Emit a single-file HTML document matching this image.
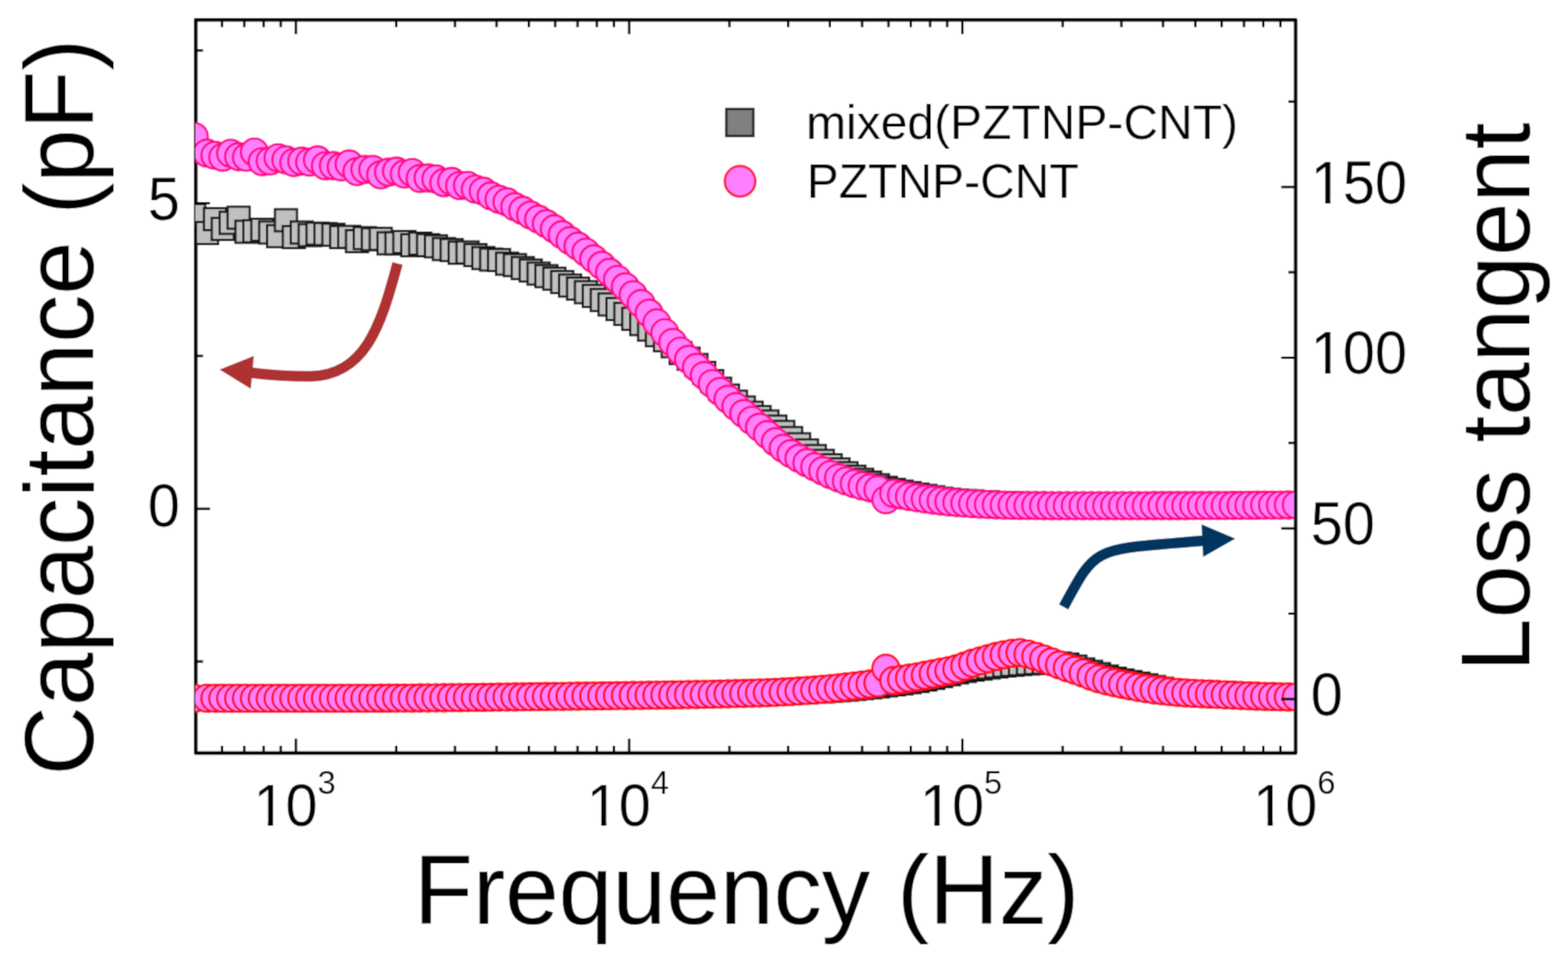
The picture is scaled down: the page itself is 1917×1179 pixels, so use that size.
<!DOCTYPE html>
<html><head><meta charset="utf-8"><title>Capacitance and loss tangent vs frequency</title>
<style>html,body{margin:0;padding:0;background:#fff;}svg{display:block;}</style></head>
<body><svg width="1917" height="1179" viewBox="0 0 1917 1179">
<defs><clipPath id="pc"><rect x="238.7" y="24.3" width="1343.3" height="896.8"/></clipPath>
<filter id="soft" x="0" y="0" width="1917" height="1179" filterUnits="userSpaceOnUse"><feConvolveMatrix order="3" kernelMatrix="0.04387 0.12171 0.04387 0.12171 0.33767 0.12171 0.04387 0.12171 0.04387" edgeMode="duplicate"/></filter></defs>
<g filter="url(#soft)">
<rect width="1917" height="1179" fill="#fff"/>
<rect x="239.3" y="24.3" width="1344.7" height="896.8" fill="none" stroke="#000" stroke-width="4.5" stroke-linejoin="round"/>
<g clip-path="url(#pc)"><g fill="#C0C0C0" stroke="#1A1A1A" stroke-width="2.8"><rect x="224.0" y="249.5" width="27" height="27"/><rect x="239.7" y="271.5" width="27" height="27"/><rect x="249.3" y="254.5" width="27" height="27"/><rect x="258.9" y="266.5" width="27" height="27"/><rect x="268.6" y="259.0" width="27" height="27"/><rect x="278.2" y="252.8" width="27" height="27"/><rect x="287.9" y="270.0" width="27" height="27"/><rect x="297.6" y="269.3" width="27" height="27"/><rect x="307.2" y="267.5" width="27" height="27"/><rect x="316.9" y="270.9" width="27" height="27"/><rect x="326.5" y="275.3" width="27" height="27"/><rect x="336.1" y="255.9" width="27" height="27"/><rect x="345.8" y="276.5" width="27" height="27"/><rect x="355.4" y="270.9" width="27" height="27"/><rect x="365.1" y="274.1" width="27" height="27"/><rect x="374.8" y="272.2" width="27" height="27"/><rect x="384.4" y="272.8" width="27" height="27"/><rect x="394.1" y="273.7" width="27" height="27"/><rect x="403.7" y="276.5" width="27" height="27"/><rect x="413.4" y="276.2" width="27" height="27"/><rect x="423.0" y="281.5" width="27" height="27"/><rect x="432.6" y="277.8" width="27" height="27"/><rect x="442.3" y="279.1" width="27" height="27"/><rect x="452.0" y="278.7" width="27" height="27"/><rect x="461.6" y="284.1" width="27" height="27"/><rect x="471.2" y="284.1" width="27" height="27"/><rect x="480.9" y="282.5" width="27" height="27"/><rect x="490.6" y="286.4" width="27" height="27"/><rect x="500.2" y="284.4" width="27" height="27"/><rect x="509.9" y="286.3" width="27" height="27"/><rect x="519.5" y="287.8" width="27" height="27"/><rect x="529.2" y="291.1" width="27" height="27"/><rect x="538.8" y="292.3" width="27" height="27"/><rect x="548.5" y="295.7" width="27" height="27"/><rect x="558.1" y="295.2" width="27" height="27"/><rect x="567.8" y="298.5" width="27" height="27"/><rect x="577.4" y="302.1" width="27" height="27"/><rect x="587.0" y="304.0" width="27" height="27"/><rect x="596.7" y="304.6" width="27" height="27"/><rect x="606.4" y="309.0" width="27" height="27"/><rect x="616.0" y="310.8" width="27" height="27"/><rect x="625.7" y="314.3" width="27" height="27"/><rect x="635.3" y="317.3" width="27" height="27"/><rect x="645.0" y="321.1" width="27" height="27"/><rect x="654.6" y="324.2" width="27" height="27"/><rect x="664.2" y="327.3" width="27" height="27"/><rect x="673.9" y="331.4" width="27" height="27"/><rect x="683.5" y="335.8" width="27" height="27"/><rect x="693.2" y="339.5" width="27" height="27"/><rect x="702.9" y="343.9" width="27" height="27"/><rect x="712.5" y="348.4" width="27" height="27"/><rect x="722.2" y="353.4" width="27" height="27"/><rect x="731.8" y="358.9" width="27" height="27"/><rect x="741.5" y="364.5" width="27" height="27"/><rect x="751.1" y="370.4" width="27" height="27"/><rect x="760.8" y="376.5" width="27" height="27"/><rect x="770.4" y="382.9" width="27" height="27"/><rect x="780.1" y="389.7" width="27" height="27"/><rect x="789.7" y="396.5" width="27" height="27"/><rect x="799.4" y="402.7" width="27" height="27"/><rect x="809.0" y="410.0" width="27" height="27"/><rect x="818.6" y="418.3" width="27" height="27"/><rect x="828.3" y="425.1" width="27" height="27"/><rect x="838.0" y="432.9" width="27" height="27"/><rect x="847.6" y="442.6" width="27" height="27"/><rect x="857.2" y="452.6" width="27" height="27"/><rect x="866.9" y="461.9" width="27" height="27"/><rect x="876.6" y="470.2" width="27" height="27"/><rect x="886.2" y="477.8" width="27" height="27"/><rect x="895.9" y="484.9" width="27" height="27"/><rect x="905.5" y="491.2" width="27" height="27"/><rect x="915.1" y="496.6" width="27" height="27"/><rect x="924.8" y="502.0" width="27" height="27"/><rect x="934.5" y="508.2" width="27" height="27"/><rect x="944.1" y="514.8" width="27" height="27"/><rect x="953.8" y="522.2" width="27" height="27"/><rect x="963.4" y="529.9" width="27" height="27"/><rect x="973.1" y="537.3" width="27" height="27"/><rect x="982.7" y="544.2" width="27" height="27"/><rect x="992.4" y="550.1" width="27" height="27"/><rect x="1002.0" y="555.5" width="27" height="27"/><rect x="1011.7" y="560.6" width="27" height="27"/><rect x="1021.3" y="565.2" width="27" height="27"/><rect x="1031.0" y="569.4" width="27" height="27"/><rect x="1040.6" y="573.2" width="27" height="27"/><rect x="1050.2" y="576.7" width="27" height="27"/><rect x="1059.9" y="580.0" width="27" height="27"/><rect x="1069.6" y="583.1" width="27" height="27"/><rect x="1079.2" y="585.6" width="27" height="27"/><rect x="1088.8" y="587.8" width="27" height="27"/><rect x="1098.5" y="589.6" width="27" height="27"/><rect x="1108.2" y="591.3" width="27" height="27"/><rect x="1117.8" y="593.0" width="27" height="27"/><rect x="1127.5" y="594.7" width="27" height="27"/><rect x="1137.1" y="596.3" width="27" height="27"/><rect x="1146.8" y="597.5" width="27" height="27"/><rect x="1156.4" y="598.4" width="27" height="27"/><rect x="1166.1" y="599.1" width="27" height="27"/><rect x="1175.7" y="599.8" width="27" height="27"/><rect x="1185.3" y="600.4" width="27" height="27"/><rect x="1195.0" y="600.9" width="27" height="27"/><rect x="1204.7" y="601.4" width="27" height="27"/><rect x="1214.3" y="601.8" width="27" height="27"/><rect x="1224.0" y="602.2" width="27" height="27"/><rect x="1233.6" y="602.4" width="27" height="27"/><rect x="1243.2" y="602.7" width="27" height="27"/><rect x="1252.9" y="602.9" width="27" height="27"/><rect x="1262.5" y="603.1" width="27" height="27"/><rect x="1272.2" y="603.3" width="27" height="27"/><rect x="1281.9" y="603.4" width="27" height="27"/><rect x="1291.5" y="603.6" width="27" height="27"/><rect x="1301.2" y="603.7" width="27" height="27"/><rect x="1310.8" y="603.8" width="27" height="27"/><rect x="1320.5" y="603.9" width="27" height="27"/><rect x="1330.1" y="604.0" width="27" height="27"/><rect x="1339.8" y="604.0" width="27" height="27"/><rect x="1349.4" y="604.1" width="27" height="27"/><rect x="1359.0" y="604.1" width="27" height="27"/><rect x="1368.7" y="604.1" width="27" height="27"/><rect x="1378.4" y="604.2" width="27" height="27"/><rect x="1388.0" y="604.2" width="27" height="27"/><rect x="1397.7" y="604.2" width="27" height="27"/><rect x="1407.3" y="604.3" width="27" height="27"/><rect x="1417.0" y="604.3" width="27" height="27"/><rect x="1426.6" y="604.3" width="27" height="27"/><rect x="1436.2" y="604.3" width="27" height="27"/><rect x="1445.9" y="604.4" width="27" height="27"/><rect x="1455.5" y="604.4" width="27" height="27"/><rect x="1465.2" y="604.4" width="27" height="27"/><rect x="1474.9" y="604.4" width="27" height="27"/><rect x="1484.5" y="604.4" width="27" height="27"/><rect x="1494.2" y="604.4" width="27" height="27"/><rect x="1503.8" y="604.5" width="27" height="27"/><rect x="1513.5" y="604.5" width="27" height="27"/><rect x="1523.1" y="604.5" width="27" height="27"/><rect x="1532.8" y="604.5" width="27" height="27"/><rect x="1542.4" y="604.5" width="27" height="27"/><rect x="1552.0" y="604.5" width="27" height="27"/><rect x="1561.7" y="604.5" width="27" height="27"/><rect x="1571.4" y="604.5" width="27" height="27"/></g><g fill="#C0C0C0" stroke="#1A1A1A" stroke-width="2.8"><rect x="224.0" y="841.5" width="27" height="27"/><rect x="239.7" y="841.5" width="27" height="27"/><rect x="249.3" y="841.5" width="27" height="27"/><rect x="258.9" y="841.5" width="27" height="27"/><rect x="268.6" y="841.5" width="27" height="27"/><rect x="278.2" y="841.5" width="27" height="27"/><rect x="287.9" y="841.4" width="27" height="27"/><rect x="297.6" y="841.4" width="27" height="27"/><rect x="307.2" y="841.4" width="27" height="27"/><rect x="316.9" y="841.4" width="27" height="27"/><rect x="326.5" y="841.4" width="27" height="27"/><rect x="336.1" y="841.3" width="27" height="27"/><rect x="345.8" y="841.3" width="27" height="27"/><rect x="355.4" y="841.3" width="27" height="27"/><rect x="365.1" y="841.2" width="27" height="27"/><rect x="374.8" y="841.2" width="27" height="27"/><rect x="384.4" y="841.2" width="27" height="27"/><rect x="394.1" y="841.1" width="27" height="27"/><rect x="403.7" y="841.1" width="27" height="27"/><rect x="413.4" y="841.0" width="27" height="27"/><rect x="423.0" y="841.0" width="27" height="27"/><rect x="432.6" y="840.9" width="27" height="27"/><rect x="442.3" y="840.9" width="27" height="27"/><rect x="452.0" y="840.8" width="27" height="27"/><rect x="461.6" y="840.8" width="27" height="27"/><rect x="471.2" y="840.7" width="27" height="27"/><rect x="480.9" y="840.6" width="27" height="27"/><rect x="490.6" y="840.6" width="27" height="27"/><rect x="500.2" y="840.5" width="27" height="27"/><rect x="509.9" y="840.4" width="27" height="27"/><rect x="519.5" y="840.4" width="27" height="27"/><rect x="529.2" y="840.3" width="27" height="27"/><rect x="538.8" y="840.2" width="27" height="27"/><rect x="548.5" y="840.1" width="27" height="27"/><rect x="558.1" y="840.0" width="27" height="27"/><rect x="567.8" y="840.0" width="27" height="27"/><rect x="577.4" y="839.9" width="27" height="27"/><rect x="587.0" y="839.8" width="27" height="27"/><rect x="596.7" y="839.7" width="27" height="27"/><rect x="606.4" y="839.6" width="27" height="27"/><rect x="616.0" y="839.5" width="27" height="27"/><rect x="625.7" y="839.4" width="27" height="27"/><rect x="635.3" y="839.3" width="27" height="27"/><rect x="645.0" y="839.2" width="27" height="27"/><rect x="654.6" y="839.1" width="27" height="27"/><rect x="664.2" y="839.0" width="27" height="27"/><rect x="673.9" y="838.9" width="27" height="27"/><rect x="683.5" y="838.8" width="27" height="27"/><rect x="693.2" y="838.7" width="27" height="27"/><rect x="702.9" y="838.6" width="27" height="27"/><rect x="712.5" y="838.4" width="27" height="27"/><rect x="722.2" y="838.3" width="27" height="27"/><rect x="731.8" y="838.2" width="27" height="27"/><rect x="741.5" y="838.1" width="27" height="27"/><rect x="751.1" y="838.0" width="27" height="27"/><rect x="760.8" y="837.8" width="27" height="27"/><rect x="770.4" y="837.7" width="27" height="27"/><rect x="780.1" y="837.6" width="27" height="27"/><rect x="789.7" y="837.4" width="27" height="27"/><rect x="799.4" y="837.3" width="27" height="27"/><rect x="809.0" y="837.2" width="27" height="27"/><rect x="818.6" y="837.0" width="27" height="27"/><rect x="828.3" y="836.9" width="27" height="27"/><rect x="838.0" y="836.7" width="27" height="27"/><rect x="847.6" y="836.6" width="27" height="27"/><rect x="857.2" y="836.5" width="27" height="27"/><rect x="866.9" y="836.3" width="27" height="27"/><rect x="876.6" y="836.2" width="27" height="27"/><rect x="886.2" y="836.0" width="27" height="27"/><rect x="895.9" y="835.8" width="27" height="27"/><rect x="905.5" y="835.6" width="27" height="27"/><rect x="915.1" y="835.4" width="27" height="27"/><rect x="924.8" y="835.1" width="27" height="27"/><rect x="934.5" y="834.8" width="27" height="27"/><rect x="944.1" y="834.4" width="27" height="27"/><rect x="953.8" y="834.0" width="27" height="27"/><rect x="963.4" y="833.6" width="27" height="27"/><rect x="973.1" y="833.2" width="27" height="27"/><rect x="982.7" y="832.7" width="27" height="27"/><rect x="992.4" y="832.2" width="27" height="27"/><rect x="1002.0" y="831.5" width="27" height="27"/><rect x="1011.7" y="830.8" width="27" height="27"/><rect x="1021.3" y="830.0" width="27" height="27"/><rect x="1031.0" y="829.1" width="27" height="27"/><rect x="1040.6" y="828.1" width="27" height="27"/><rect x="1050.2" y="827.1" width="27" height="27"/><rect x="1059.9" y="826.0" width="27" height="27"/><rect x="1069.6" y="824.8" width="27" height="27"/><rect x="1079.2" y="823.6" width="27" height="27"/><rect x="1088.8" y="822.3" width="27" height="27"/><rect x="1098.5" y="820.9" width="27" height="27"/><rect x="1108.2" y="819.4" width="27" height="27"/><rect x="1117.8" y="817.7" width="27" height="27"/><rect x="1127.5" y="815.7" width="27" height="27"/><rect x="1137.1" y="813.4" width="27" height="27"/><rect x="1146.8" y="811.1" width="27" height="27"/><rect x="1156.4" y="808.9" width="27" height="27"/><rect x="1166.1" y="807.1" width="27" height="27"/><rect x="1175.7" y="805.6" width="27" height="27"/><rect x="1185.3" y="804.2" width="27" height="27"/><rect x="1195.0" y="802.9" width="27" height="27"/><rect x="1204.7" y="801.7" width="27" height="27"/><rect x="1214.3" y="800.6" width="27" height="27"/><rect x="1224.0" y="799.7" width="27" height="27"/><rect x="1233.6" y="798.8" width="27" height="27"/><rect x="1243.2" y="798.0" width="27" height="27"/><rect x="1252.9" y="797.3" width="27" height="27"/><rect x="1262.5" y="797.0" width="27" height="27"/><rect x="1272.2" y="797.3" width="27" height="27"/><rect x="1281.9" y="798.0" width="27" height="27"/><rect x="1291.5" y="799.2" width="27" height="27"/><rect x="1301.2" y="801.8" width="27" height="27"/><rect x="1310.8" y="805.2" width="27" height="27"/><rect x="1320.5" y="808.1" width="27" height="27"/><rect x="1330.1" y="811.0" width="27" height="27"/><rect x="1339.8" y="813.9" width="27" height="27"/><rect x="1349.4" y="816.5" width="27" height="27"/><rect x="1359.0" y="818.7" width="27" height="27"/><rect x="1368.7" y="820.7" width="27" height="27"/><rect x="1378.4" y="822.6" width="27" height="27"/><rect x="1388.0" y="824.6" width="27" height="27"/><rect x="1397.7" y="826.8" width="27" height="27"/><rect x="1407.3" y="828.8" width="27" height="27"/><rect x="1417.0" y="830.6" width="27" height="27"/><rect x="1426.6" y="832.1" width="27" height="27"/><rect x="1436.2" y="833.4" width="27" height="27"/><rect x="1445.9" y="834.6" width="27" height="27"/><rect x="1455.5" y="835.4" width="27" height="27"/><rect x="1465.2" y="836.0" width="27" height="27"/><rect x="1474.9" y="836.4" width="27" height="27"/><rect x="1484.5" y="836.8" width="27" height="27"/><rect x="1494.2" y="837.1" width="27" height="27"/><rect x="1503.8" y="837.4" width="27" height="27"/><rect x="1513.5" y="837.7" width="27" height="27"/><rect x="1523.1" y="838.1" width="27" height="27"/><rect x="1532.8" y="838.4" width="27" height="27"/><rect x="1542.4" y="838.7" width="27" height="27"/><rect x="1552.0" y="839.0" width="27" height="27"/><rect x="1561.7" y="839.3" width="27" height="27"/><rect x="1571.4" y="839.5" width="27" height="27"/></g><g fill="#FF80FF" stroke="#FF0A8A" stroke-width="2.9"><circle cx="237.5" cy="167.0" r="16.6"/><circle cx="253.2" cy="187.3" r="16.6"/><circle cx="262.8" cy="190.0" r="16.6"/><circle cx="272.4" cy="192.2" r="16.6"/><circle cx="282.1" cy="187.5" r="16.6"/><circle cx="291.8" cy="191.6" r="16.6"/><circle cx="301.4" cy="192.3" r="16.6"/><circle cx="311.1" cy="186.0" r="16.6"/><circle cx="320.7" cy="197.7" r="16.6"/><circle cx="330.4" cy="196.8" r="16.6"/><circle cx="340.0" cy="193.0" r="16.6"/><circle cx="349.6" cy="195.5" r="16.6"/><circle cx="359.3" cy="198.7" r="16.6"/><circle cx="368.9" cy="197.1" r="16.6"/><circle cx="378.6" cy="198.2" r="16.6"/><circle cx="388.2" cy="195.6" r="16.6"/><circle cx="397.9" cy="202.7" r="16.6"/><circle cx="407.6" cy="202.6" r="16.6"/><circle cx="417.2" cy="204.1" r="16.6"/><circle cx="426.9" cy="200.6" r="16.6"/><circle cx="436.5" cy="209.8" r="16.6"/><circle cx="446.1" cy="207.3" r="16.6"/><circle cx="455.8" cy="207.3" r="16.6"/><circle cx="465.5" cy="213.8" r="16.6"/><circle cx="475.1" cy="210.6" r="16.6"/><circle cx="484.8" cy="209.3" r="16.6"/><circle cx="494.4" cy="212.8" r="16.6"/><circle cx="504.1" cy="211.0" r="16.6"/><circle cx="513.7" cy="218.3" r="16.6"/><circle cx="523.4" cy="217.6" r="16.6"/><circle cx="533.0" cy="218.9" r="16.6"/><circle cx="542.7" cy="223.4" r="16.6"/><circle cx="552.3" cy="221.9" r="16.6"/><circle cx="562.0" cy="227.0" r="16.6"/><circle cx="571.6" cy="226.7" r="16.6"/><circle cx="581.2" cy="231.2" r="16.6"/><circle cx="590.9" cy="233.8" r="16.6"/><circle cx="600.5" cy="239.6" r="16.6"/><circle cx="610.2" cy="243.7" r="16.6"/><circle cx="619.9" cy="246.9" r="16.6"/><circle cx="629.5" cy="252.8" r="16.6"/><circle cx="639.2" cy="257.4" r="16.6"/><circle cx="648.8" cy="263.1" r="16.6"/><circle cx="658.5" cy="268.1" r="16.6"/><circle cx="668.1" cy="273.6" r="16.6"/><circle cx="677.8" cy="279.9" r="16.6"/><circle cx="687.4" cy="287.1" r="16.6"/><circle cx="697.0" cy="294.3" r="16.6"/><circle cx="706.7" cy="301.1" r="16.6"/><circle cx="716.4" cy="308.5" r="16.6"/><circle cx="726.0" cy="316.6" r="16.6"/><circle cx="735.7" cy="324.6" r="16.6"/><circle cx="745.3" cy="333.1" r="16.6"/><circle cx="755.0" cy="341.7" r="16.6"/><circle cx="764.6" cy="350.8" r="16.6"/><circle cx="774.2" cy="360.5" r="16.6"/><circle cx="783.9" cy="371.3" r="16.6"/><circle cx="793.6" cy="383.1" r="16.6"/><circle cx="803.2" cy="394.9" r="16.6"/><circle cx="812.9" cy="407.0" r="16.6"/><circle cx="822.5" cy="418.8" r="16.6"/><circle cx="832.1" cy="429.5" r="16.6"/><circle cx="841.8" cy="439.6" r="16.6"/><circle cx="851.5" cy="449.4" r="16.6"/><circle cx="861.1" cy="459.3" r="16.6"/><circle cx="870.8" cy="469.2" r="16.6"/><circle cx="880.4" cy="478.9" r="16.6"/><circle cx="890.1" cy="488.3" r="16.6"/><circle cx="899.7" cy="497.3" r="16.6"/><circle cx="909.4" cy="505.8" r="16.6"/><circle cx="919.0" cy="514.2" r="16.6"/><circle cx="928.6" cy="522.6" r="16.6"/><circle cx="938.3" cy="531.6" r="16.6"/><circle cx="948.0" cy="540.4" r="16.6"/><circle cx="957.6" cy="548.3" r="16.6"/><circle cx="967.2" cy="554.8" r="16.6"/><circle cx="976.9" cy="560.6" r="16.6"/><circle cx="986.6" cy="565.9" r="16.6"/><circle cx="996.2" cy="571.0" r="16.6"/><circle cx="1005.9" cy="575.9" r="16.6"/><circle cx="1015.5" cy="580.5" r="16.6"/><circle cx="1025.2" cy="584.5" r="16.6"/><circle cx="1034.8" cy="588.2" r="16.6"/><circle cx="1044.5" cy="591.5" r="16.6"/><circle cx="1054.1" cy="594.2" r="16.6"/><circle cx="1063.8" cy="596.6" r="16.6"/><circle cx="1073.4" cy="598.9" r="16.6"/><circle cx="1083.1" cy="611.2" r="16.6"/><circle cx="1092.7" cy="603.5" r="16.6"/><circle cx="1102.3" cy="605.4" r="16.6"/><circle cx="1112.0" cy="607.2" r="16.6"/><circle cx="1121.7" cy="608.8" r="16.6"/><circle cx="1131.3" cy="610.3" r="16.6"/><circle cx="1141.0" cy="611.6" r="16.6"/><circle cx="1150.6" cy="612.7" r="16.6"/><circle cx="1160.2" cy="613.7" r="16.6"/><circle cx="1169.9" cy="614.6" r="16.6"/><circle cx="1179.6" cy="615.3" r="16.6"/><circle cx="1189.2" cy="616.0" r="16.6"/><circle cx="1198.8" cy="616.5" r="16.6"/><circle cx="1208.5" cy="617.0" r="16.6"/><circle cx="1218.2" cy="617.4" r="16.6"/><circle cx="1227.8" cy="617.7" r="16.6"/><circle cx="1237.5" cy="618.0" r="16.6"/><circle cx="1247.1" cy="618.1" r="16.6"/><circle cx="1256.8" cy="618.2" r="16.6"/><circle cx="1266.4" cy="618.3" r="16.6"/><circle cx="1276.0" cy="618.4" r="16.6"/><circle cx="1285.7" cy="618.5" r="16.6"/><circle cx="1295.4" cy="618.5" r="16.6"/><circle cx="1305.0" cy="618.5" r="16.6"/><circle cx="1314.7" cy="618.5" r="16.6"/><circle cx="1324.3" cy="618.5" r="16.6"/><circle cx="1334.0" cy="618.5" r="16.6"/><circle cx="1343.6" cy="618.5" r="16.6"/><circle cx="1353.2" cy="618.5" r="16.6"/><circle cx="1362.9" cy="618.5" r="16.6"/><circle cx="1372.5" cy="618.5" r="16.6"/><circle cx="1382.2" cy="618.5" r="16.6"/><circle cx="1391.9" cy="618.5" r="16.6"/><circle cx="1401.5" cy="618.5" r="16.6"/><circle cx="1411.2" cy="618.4" r="16.6"/><circle cx="1420.8" cy="618.4" r="16.6"/><circle cx="1430.5" cy="618.4" r="16.6"/><circle cx="1440.1" cy="618.4" r="16.6"/><circle cx="1449.8" cy="618.4" r="16.6"/><circle cx="1459.4" cy="618.3" r="16.6"/><circle cx="1469.0" cy="618.3" r="16.6"/><circle cx="1478.7" cy="618.3" r="16.6"/><circle cx="1488.4" cy="618.2" r="16.6"/><circle cx="1498.0" cy="618.2" r="16.6"/><circle cx="1507.7" cy="618.1" r="16.6"/><circle cx="1517.3" cy="618.1" r="16.6"/><circle cx="1527.0" cy="618.0" r="16.6"/><circle cx="1536.6" cy="617.9" r="16.6"/><circle cx="1546.2" cy="617.8" r="16.6"/><circle cx="1555.9" cy="617.8" r="16.6"/><circle cx="1565.5" cy="617.7" r="16.6"/><circle cx="1575.2" cy="617.6" r="16.6"/><circle cx="1584.9" cy="617.5" r="16.6"/></g><g fill="#FF80FF" stroke="#FF1020" stroke-width="2.9"><circle cx="237.5" cy="854.0" r="16.6"/><circle cx="253.2" cy="854.0" r="16.6"/><circle cx="262.8" cy="854.0" r="16.6"/><circle cx="272.4" cy="854.0" r="16.6"/><circle cx="282.1" cy="854.0" r="16.6"/><circle cx="291.8" cy="854.0" r="16.6"/><circle cx="301.4" cy="854.0" r="16.6"/><circle cx="311.1" cy="854.0" r="16.6"/><circle cx="320.7" cy="854.0" r="16.6"/><circle cx="330.4" cy="854.0" r="16.6"/><circle cx="340.0" cy="854.0" r="16.6"/><circle cx="349.6" cy="854.0" r="16.6"/><circle cx="359.3" cy="854.0" r="16.6"/><circle cx="368.9" cy="854.0" r="16.6"/><circle cx="378.6" cy="854.0" r="16.6"/><circle cx="388.2" cy="854.0" r="16.6"/><circle cx="397.9" cy="854.0" r="16.6"/><circle cx="407.6" cy="854.0" r="16.6"/><circle cx="417.2" cy="854.0" r="16.6"/><circle cx="426.9" cy="854.0" r="16.6"/><circle cx="436.5" cy="854.0" r="16.6"/><circle cx="446.1" cy="854.0" r="16.6"/><circle cx="455.8" cy="854.0" r="16.6"/><circle cx="465.5" cy="853.9" r="16.6"/><circle cx="475.1" cy="853.9" r="16.6"/><circle cx="484.8" cy="853.8" r="16.6"/><circle cx="494.4" cy="853.8" r="16.6"/><circle cx="504.1" cy="853.7" r="16.6"/><circle cx="513.7" cy="853.6" r="16.6"/><circle cx="523.4" cy="853.6" r="16.6"/><circle cx="533.0" cy="853.5" r="16.6"/><circle cx="542.7" cy="853.4" r="16.6"/><circle cx="552.3" cy="853.3" r="16.6"/><circle cx="562.0" cy="853.2" r="16.6"/><circle cx="571.6" cy="853.1" r="16.6"/><circle cx="581.2" cy="853.0" r="16.6"/><circle cx="590.9" cy="852.9" r="16.6"/><circle cx="600.5" cy="852.8" r="16.6"/><circle cx="610.2" cy="852.6" r="16.6"/><circle cx="619.9" cy="852.5" r="16.6"/><circle cx="629.5" cy="852.4" r="16.6"/><circle cx="639.2" cy="852.3" r="16.6"/><circle cx="648.8" cy="852.1" r="16.6"/><circle cx="658.5" cy="852.0" r="16.6"/><circle cx="668.1" cy="851.9" r="16.6"/><circle cx="677.8" cy="851.8" r="16.6"/><circle cx="687.4" cy="851.7" r="16.6"/><circle cx="697.0" cy="851.5" r="16.6"/><circle cx="706.7" cy="851.4" r="16.6"/><circle cx="716.4" cy="851.3" r="16.6"/><circle cx="726.0" cy="851.2" r="16.6"/><circle cx="735.7" cy="851.1" r="16.6"/><circle cx="745.3" cy="851.0" r="16.6"/><circle cx="755.0" cy="850.8" r="16.6"/><circle cx="764.6" cy="850.7" r="16.6"/><circle cx="774.2" cy="850.6" r="16.6"/><circle cx="783.9" cy="850.5" r="16.6"/><circle cx="793.6" cy="850.3" r="16.6"/><circle cx="803.2" cy="850.2" r="16.6"/><circle cx="812.9" cy="850.0" r="16.6"/><circle cx="822.5" cy="849.9" r="16.6"/><circle cx="832.1" cy="849.7" r="16.6"/><circle cx="841.8" cy="849.5" r="16.6"/><circle cx="851.5" cy="849.4" r="16.6"/><circle cx="861.1" cy="849.2" r="16.6"/><circle cx="870.8" cy="849.0" r="16.6"/><circle cx="880.4" cy="848.8" r="16.6"/><circle cx="890.1" cy="848.6" r="16.6"/><circle cx="899.7" cy="848.3" r="16.6"/><circle cx="909.4" cy="848.1" r="16.6"/><circle cx="919.0" cy="847.8" r="16.6"/><circle cx="928.6" cy="847.5" r="16.6"/><circle cx="938.3" cy="847.2" r="16.6"/><circle cx="948.0" cy="846.8" r="16.6"/><circle cx="957.6" cy="846.3" r="16.6"/><circle cx="967.2" cy="845.8" r="16.6"/><circle cx="976.9" cy="845.1" r="16.6"/><circle cx="986.6" cy="844.5" r="16.6"/><circle cx="996.2" cy="843.8" r="16.6"/><circle cx="1005.9" cy="843.0" r="16.6"/><circle cx="1015.5" cy="842.2" r="16.6"/><circle cx="1025.2" cy="841.2" r="16.6"/><circle cx="1034.8" cy="840.1" r="16.6"/><circle cx="1044.5" cy="839.0" r="16.6"/><circle cx="1054.1" cy="837.8" r="16.6"/><circle cx="1063.8" cy="836.6" r="16.6"/><circle cx="1073.4" cy="835.2" r="16.6"/><circle cx="1083.1" cy="817.4" r="16.6"/><circle cx="1092.7" cy="832.4" r="16.6"/><circle cx="1102.3" cy="830.9" r="16.6"/><circle cx="1112.0" cy="829.4" r="16.6"/><circle cx="1121.7" cy="827.7" r="16.6"/><circle cx="1131.3" cy="825.9" r="16.6"/><circle cx="1141.0" cy="824.0" r="16.6"/><circle cx="1150.6" cy="822.1" r="16.6"/><circle cx="1160.2" cy="820.2" r="16.6"/><circle cx="1169.9" cy="817.9" r="16.6"/><circle cx="1179.6" cy="814.6" r="16.6"/><circle cx="1189.2" cy="811.1" r="16.6"/><circle cx="1198.8" cy="808.2" r="16.6"/><circle cx="1208.5" cy="805.6" r="16.6"/><circle cx="1218.2" cy="802.9" r="16.6"/><circle cx="1227.8" cy="800.7" r="16.6"/><circle cx="1237.5" cy="799.0" r="16.6"/><circle cx="1247.1" cy="798.2" r="16.6"/><circle cx="1256.8" cy="800.0" r="16.6"/><circle cx="1266.4" cy="802.7" r="16.6"/><circle cx="1276.0" cy="806.0" r="16.6"/><circle cx="1285.7" cy="809.6" r="16.6"/><circle cx="1295.4" cy="813.3" r="16.6"/><circle cx="1305.0" cy="816.7" r="16.6"/><circle cx="1314.7" cy="819.8" r="16.6"/><circle cx="1324.3" cy="823.2" r="16.6"/><circle cx="1334.0" cy="827.1" r="16.6"/><circle cx="1343.6" cy="830.2" r="16.6"/><circle cx="1353.2" cy="832.8" r="16.6"/><circle cx="1362.9" cy="835.0" r="16.6"/><circle cx="1372.5" cy="837.1" r="16.6"/><circle cx="1382.2" cy="838.9" r="16.6"/><circle cx="1391.9" cy="840.7" r="16.6"/><circle cx="1401.5" cy="842.3" r="16.6"/><circle cx="1411.2" cy="843.7" r="16.6"/><circle cx="1420.8" cy="844.8" r="16.6"/><circle cx="1430.5" cy="845.8" r="16.6"/><circle cx="1440.1" cy="846.7" r="16.6"/><circle cx="1449.8" cy="847.5" r="16.6"/><circle cx="1459.4" cy="848.0" r="16.6"/><circle cx="1469.0" cy="848.5" r="16.6"/><circle cx="1478.7" cy="848.9" r="16.6"/><circle cx="1488.4" cy="849.3" r="16.6"/><circle cx="1498.0" cy="849.7" r="16.6"/><circle cx="1507.7" cy="850.1" r="16.6"/><circle cx="1517.3" cy="850.6" r="16.6"/><circle cx="1527.0" cy="851.0" r="16.6"/><circle cx="1536.6" cy="851.4" r="16.6"/><circle cx="1546.2" cy="851.7" r="16.6"/><circle cx="1555.9" cy="851.9" r="16.6"/><circle cx="1565.5" cy="852.2" r="16.6"/><circle cx="1575.2" cy="852.4" r="16.6"/><circle cx="1584.9" cy="852.5" r="16.6"/></g></g>
<path d="M271.4 921.1V912.1M271.4 24.3V33.3M298.7 921.1V912.1M298.7 24.3V33.3M322.3 921.1V912.1M322.3 24.3V33.3M343.2 921.1V912.1M343.2 24.3V33.3M361.8 921.1V903.6M361.8 24.3V41.8M484.4 921.1V912.1M484.4 24.3V33.3M556.2 921.1V912.1M556.2 24.3V33.3M607.1 921.1V912.1M607.1 24.3V33.3M646.6 921.1V912.1M646.6 24.3V33.3M678.8 921.1V912.1M678.8 24.3V33.3M706.1 921.1V912.1M706.1 24.3V33.3M729.7 921.1V912.1M729.7 24.3V33.3M750.6 921.1V912.1M750.6 24.3V33.3M769.2 921.1V903.6M769.2 24.3V41.8M891.8 921.1V912.1M891.8 24.3V33.3M963.6 921.1V912.1M963.6 24.3V33.3M1014.5 921.1V912.1M1014.5 24.3V33.3M1054.0 921.1V912.1M1054.0 24.3V33.3M1086.2 921.1V912.1M1086.2 24.3V33.3M1113.5 921.1V912.1M1113.5 24.3V33.3M1137.1 921.1V912.1M1137.1 24.3V33.3M1158.0 921.1V912.1M1158.0 24.3V33.3M1176.6 921.1V903.6M1176.6 24.3V41.8M1299.2 921.1V912.1M1299.2 24.3V33.3M1371.0 921.1V912.1M1371.0 24.3V33.3M1421.9 921.1V912.1M1421.9 24.3V33.3M1461.4 921.1V912.1M1461.4 24.3V33.3M1493.6 921.1V912.1M1493.6 24.3V33.3M1520.9 921.1V912.1M1520.9 24.3V33.3M1544.5 921.1V912.1M1544.5 24.3V33.3M1565.4 921.1V912.1M1565.4 24.3V33.3M1584.0 921.1V903.6M1584.0 24.3V41.8M239.3 809.0H248.3M239.3 622.2H256.8M239.3 435.3H248.3M239.3 248.5H256.8M239.3 61.7H248.3M1584.0 854.9H1566.5M1584.0 750.5H1575.0M1584.0 646.2H1566.5M1584.0 541.8H1575.0M1584.0 437.4H1566.5M1584.0 333.1H1575.0M1584.0 228.7H1566.5M1584.0 124.3H1575.0" stroke="#000" stroke-width="3" fill="none"/>
<g font-family="'Liberation Sans', Arial, sans-serif" fill="#000"><text transform="translate(220,269.0) scale(1,1.04)" text-anchor="end" font-size="70.5">5</text><text transform="translate(220,643.5) scale(1,1.04)" text-anchor="end" font-size="70.5">0</text><g transform="translate(1602.5,874.9) scale(1,1.04)"><text font-size="70.5">0</text></g><g transform="translate(1602.5,666.2) scale(1,1.04)"><text font-size="70.5">50</text></g><g transform="translate(1602.5,457.4) scale(1,1.04)"><text font-size="70.5">100</text><rect x="4.37" y="-6.57" width="13.26" height="7.87" fill="#fff"/><rect x="24.06" y="-6.57" width="12.81" height="7.87" fill="#fff"/></g><g transform="translate(1602.5,248.7) scale(1,1.04)"><text font-size="70.5">150</text><rect x="4.37" y="-6.57" width="13.26" height="7.87" fill="#fff"/><rect x="24.06" y="-6.57" width="12.81" height="7.87" fill="#fff"/></g><g transform="translate(309.9,1010) scale(1,1.03)"><text font-size="70.5">10</text><rect x="4.37" y="-6.57" width="13.26" height="7.87" fill="#fff"/><rect x="24.06" y="-6.57" width="12.81" height="7.87" fill="#fff"/></g><text transform="translate(388.3,970.5) scale(1,1.03)" font-size="40">3</text><g transform="translate(717.3,1010) scale(1,1.03)"><text font-size="70.5">10</text><rect x="4.37" y="-6.57" width="13.26" height="7.87" fill="#fff"/><rect x="24.06" y="-6.57" width="12.81" height="7.87" fill="#fff"/></g><text transform="translate(795.7,970.5) scale(1,1.03)" font-size="40">4</text><g transform="translate(1124.7,1010) scale(1,1.03)"><text font-size="70.5">10</text><rect x="4.37" y="-6.57" width="13.26" height="7.87" fill="#fff"/><rect x="24.06" y="-6.57" width="12.81" height="7.87" fill="#fff"/></g><text transform="translate(1203.1,970.5) scale(1,1.03)" font-size="40">5</text><g transform="translate(1532.1,1010) scale(1,1.03)"><text font-size="70.5">10</text><rect x="4.37" y="-6.57" width="13.26" height="7.87" fill="#fff"/><rect x="24.06" y="-6.57" width="12.81" height="7.87" fill="#fff"/></g><text transform="translate(1610.5,970.5) scale(1,1.03)" font-size="40">6</text><text transform="translate(114,948.4) rotate(-90) scale(1,1.025)" font-size="117.5">Capacitance (pF)</text><text transform="translate(506,1130) scale(1,1.02)" font-size="118.1">Frequency (Hz)</text><text transform="translate(1869.5,821.5) rotate(-90) scale(1,1.02)" font-size="117.3">Loss tangent</text><rect x="888" y="133.3" width="33" height="33" fill="#808080" stroke="#262626" stroke-width="3"/><circle cx="904.8" cy="221.7" r="18.7" fill="#FF80FF" stroke="#FF2040" stroke-width="3"/><text x="985.4" y="170.3" font-size="58.7">mixed(PZTNP-CNT)</text><text x="986.3" y="242" font-size="58.7">PZTNP-CNT</text></g>
<path d="M486 322.2 C464.8 402.3 445.2 458 380 460.3 C360 460.4 330 459 300 455" fill="none" stroke="#AE3333" stroke-width="13"/><path d="M268.4 452 L310.4 435.2 L306.6 475.6 Z" fill="#AE3333"/><path d="M1300.4 742.3 C1341.7 665.8 1335.7 672.6 1472 661.3" fill="none" stroke="#003460" stroke-width="13"/><path d="M1510.3 658.8 L1469 641.3 L1470.9 681.3 Z" fill="#003460"/>
</g>
</svg></body></html>
